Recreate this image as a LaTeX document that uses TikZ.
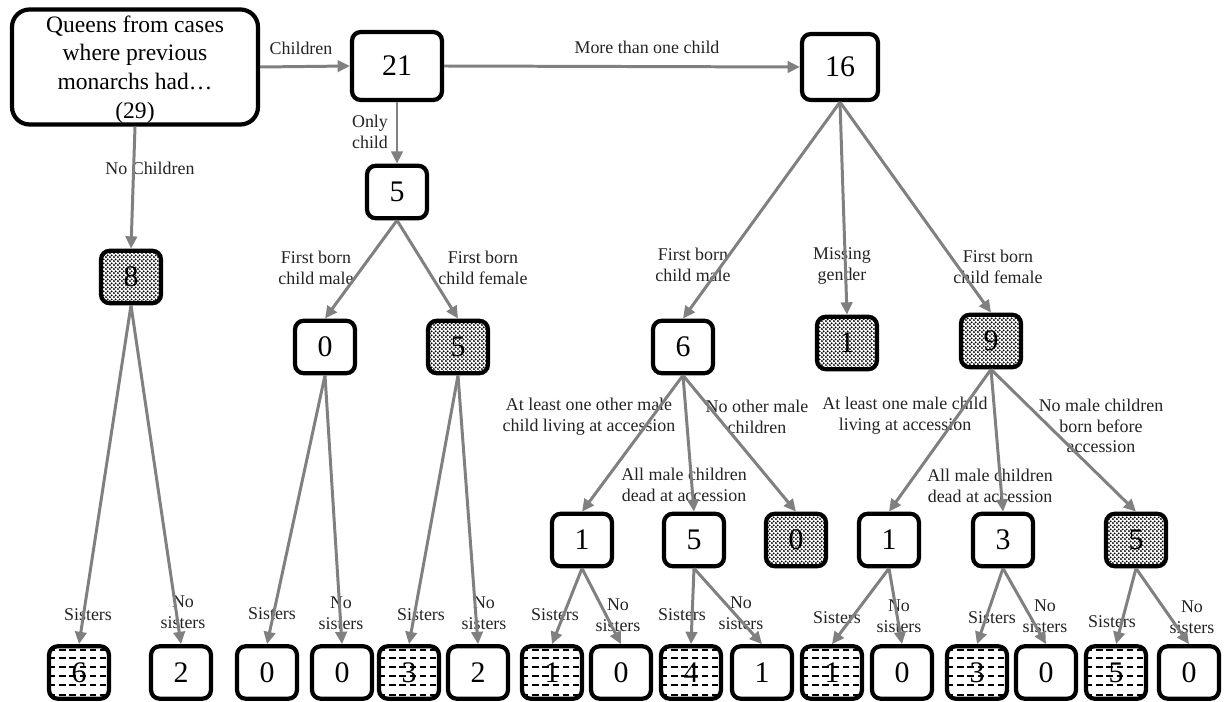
\documentclass[tikz,border=0pt]{standalone}
\usepackage{fontspec}
\setmainfont{Liberation Serif}
\usetikzlibrary{arrows.meta, patterns.meta, calc}

\definecolor{edgegray}{RGB}{128,128,128}
\definecolor{labelgray}{RGB}{35,35,35}

\tikzdeclarepattern{
    name=fewdots,
    type=uncolored,
    bottom left={(0pt,0pt)},
    top right={(2.4pt,2.4pt)},
    tile size={(2.4pt,2.4pt)},
    code={
        \fill (0.6pt,0.6pt) circle (0.68pt);
        \fill (1.8pt,1.8pt) circle (0.68pt);
    }
}

\tikzset{
    box/.style={draw, line width=2.4pt, rounded corners=5pt, minimum width=1.2cm, minimum height=1.05cm, inner sep=1pt, align=center, font=\fontsize{17}{20}\selectfont},
    dotbox/.style={box, pattern=fewdots, pattern color=black},
    dashbox/.style={box, path picture={
        \foreach \f in {0.08,0.26,0.43,0.6,0.77,0.93}
            \draw[line width=1.1pt, dash pattern=on 3.6pt off 2.2pt]
                ($(path picture bounding box.south west)!\f!(path picture bounding box.north west)$) --
                ($(path picture bounding box.south east)!\f!(path picture bounding box.north east)$);
    }},
    flow/.style={draw=edgegray, line width=1.7pt, -{Triangle[length=7pt,width=6.5pt]}},
    lbl/.style={text=labelgray, align=center, font=\fontsize{10.2}{11.8}\selectfont, inner sep=0pt}
}

\begin{document}
\begin{tikzpicture}
    \useasboundingbox (0,0) rectangle (24.5,-14.04);

    % top row
    \node[box, rounded corners=10pt, minimum width=4.92cm, minimum height=2.3cm, text depth=0pt, font=\fontsize{13.4}{16.4}\selectfont] (root) at (2.7,-1.34) {Queens from cases\\where previous\\monarchs had…\\(29)};
    \node[box, minimum width=1.8cm, minimum height=1.36cm] (kids) at (7.94,-1.32) {21};
    \node[box, minimum width=1.52cm, minimum height=1.32cm] (multi) at (16.8,-1.34) {16};

    % second level
    \node[box] (only) at (7.94,-3.84) {5};
    \node[dotbox] (nokids) at (2.62,-5.54) {8};
    \node[box] (onlym) at (6.5,-6.94) {0};
    \node[dotbox] (onlyf) at (9.16,-6.94) {5};
    \node[box] (firstm) at (13.66,-6.94) {6};
    \node[dotbox] (nogender) at (16.94,-6.86) {1};
    \node[dotbox] (firstf) at (19.82,-6.82) {9};

    % third level
    \node[box] (mliv) at (11.64,-10.8) {1};
    \node[box] (mdead) at (13.88,-10.8) {5};
    \node[dotbox] (mnone) at (15.92,-10.8) {0};
    \node[box] (fliv) at (17.78,-10.8) {1};
    \node[box] (fdead) at (20.06,-10.8) {3};
    \node[dotbox] (fnone) at (22.72,-10.8) {5};

    % sisters row
    \node[dashbox] (nokidsS) at (1.58,-13.45) {6};
    \node[box] (nokidsN) at (3.62,-13.45) {2};
    \node[box] (onlymS) at (5.34,-13.45) {0};
    \node[box] (onlymN) at (6.84,-13.45) {0};
    \node[dashbox] (onlyfS) at (8.18,-13.45) {3};
    \node[box] (onlyfN) at (9.56,-13.45) {2};
    \node[dashbox] (mlivS) at (11.04,-13.45) {1};
    \node[box] (mlivN) at (12.42,-13.45) {0};
    \node[dashbox] (mdeadS) at (13.82,-13.45) {4};
    \node[box] (mdeadN) at (15.24,-13.45) {1};
    \node[dashbox] (flivS) at (16.64,-13.45) {1};
    \node[box] (flivN) at (18.04,-13.45) {0};
    \node[dashbox] (fdeadS) at (19.54,-13.45) {3};
    \node[box] (fdeadN) at (20.92,-13.45) {0};
    \node[dashbox] (fnoneS) at (22.32,-13.45) {5};
    \node[box] (fnoneN) at (23.78,-13.45) {0};

    % labels
    \node[lbl] (lkids) at (6.02,-0.96) {Children};
    \node[lbl] (lmulti) at (12.94,-0.94) {More than one child};
    \node[lbl] (lnokids) at (3.0,-3.36) {No Children};
    \node[lbl] (lonly) at (7.4,-2.64) {Only\\child};
    \node[lbl] (lonlym) at (6.32,-5.36) {First born\\child male};
    \node[lbl] (lonlyf) at (9.66,-5.36) {First born\\child female};
    \node[lbl] (lfirstm) at (13.86,-5.3) {First born\\child male};
    \node[lbl] (lnogender) at (16.84,-5.32) {Missing\\gender};
    \node[lbl] (lfirstf) at (19.96,-5.34) {First born\\child female};
    \node[lbl] (lmliv) at (11.78,-8.34) {At least one other male\\child living at accession};
    \node[lbl] (lmnone) at (15.14,-8.34) {No other male\\children};
    \node[lbl] (lmdead) at (13.68,-9.7) {All male children\\dead at accession};
    \node[lbl] (lfliv) at (18.1,-8.32) {At least one male child\\living at accession};
    \node[lbl] (lfnone) at (22.02,-8.52) {No male children\\born before\\accession};
    \node[lbl] (lfdead) at (19.8,-9.72) {All male children\\dead at accession};

    \node[lbl] (lnokidsS) at (1.76,-12.3) {Sisters};
    \node[lbl] (lnokidsN) at (3.66,-12.24) {No\\sisters};
    \node[lbl] (lonlymS) at (5.44,-12.28) {Sisters};
    \node[lbl] (lonlymN) at (6.82,-12.26) {No\\sisters};
    \node[lbl] (lonlyfS) at (8.42,-12.3) {Sisters};
    \node[lbl] (lonlyfN) at (9.68,-12.26) {No\\sisters};
    \node[lbl] (lmlivS) at (11.1,-12.3) {Sisters};
    \node[lbl] (lmlivN) at (12.36,-12.3) {No\\sisters};
    \node[lbl] (lmdeadS) at (13.64,-12.3) {Sisters};
    \node[lbl] (lmdeadN) at (14.82,-12.26) {No\\sisters};
    \node[lbl] (lflivS) at (16.74,-12.36) {Sisters};
    \node[lbl] (lflivN) at (17.98,-12.32) {No\\sisters};
    \node[lbl] (lfdeadS) at (19.84,-12.36) {Sisters};
    \node[lbl] (lfdeadN) at (20.9,-12.32) {No\\sisters};
    \node[lbl] (lfnoneS) at (22.24,-12.44) {Sisters};
    \node[lbl] (lfnoneN) at (23.84,-12.34) {No\\sisters};

    % connectors
    \draw[flow] (root.east) -- (kids.west);
    \draw[flow] (kids.east) -- (multi.west);
    \draw[flow] (root.south) -- (nokids.north);
    \draw[flow] (kids.south) -- (only.north);
    \draw[flow] (only.south) -- (onlym.north);
    \draw[flow] (only.south) -- (onlyf.north);
    \draw[flow] (multi.south) -- (firstm.north);
    \draw[flow] (multi.south) -- (nogender.north);
    \draw[flow] (multi.south) -- (firstf.north);
    \draw[flow] (firstm.south) -- (mliv.north);
    \draw[flow] (firstm.south) -- (mdead.north);
    \draw[flow] (firstm.south) -- (mnone.north);
    \draw[flow] (firstf.south) -- (fliv.north);
    \draw[flow] (firstf.south) -- (fdead.north);
    \draw[flow] (firstf.south) -- (fnone.north);

    \draw[flow] (nokids.south) -- (nokidsS.north);
    \draw[flow] (nokids.south) -- (nokidsN.north);
    \draw[flow] (onlym.south) -- (onlymS.north);
    \draw[flow] (onlym.south) -- (onlymN.north);
    \draw[flow] (onlyf.south) -- (onlyfS.north);
    \draw[flow] (onlyf.south) -- (onlyfN.north);
    \draw[flow] (mliv.south) -- (mlivS.north);
    \draw[flow] (mliv.south) -- (mlivN.north);
    \draw[flow] (mdead.south) -- (mdeadS.north);
    \draw[flow] (mdead.south) -- (mdeadN.north);
    \draw[flow] (fliv.south) -- (flivS.north);
    \draw[flow] (fliv.south) -- (flivN.north);
    \draw[flow] (fdead.south) -- (fdeadS.north);
    \draw[flow] (fdead.south) -- (fdeadN.north);
    \draw[flow] (fnone.south) -- (fnoneS.north);
    \draw[flow] (fnone.south) -- (fnoneN.north);
\end{tikzpicture}
\end{document}
